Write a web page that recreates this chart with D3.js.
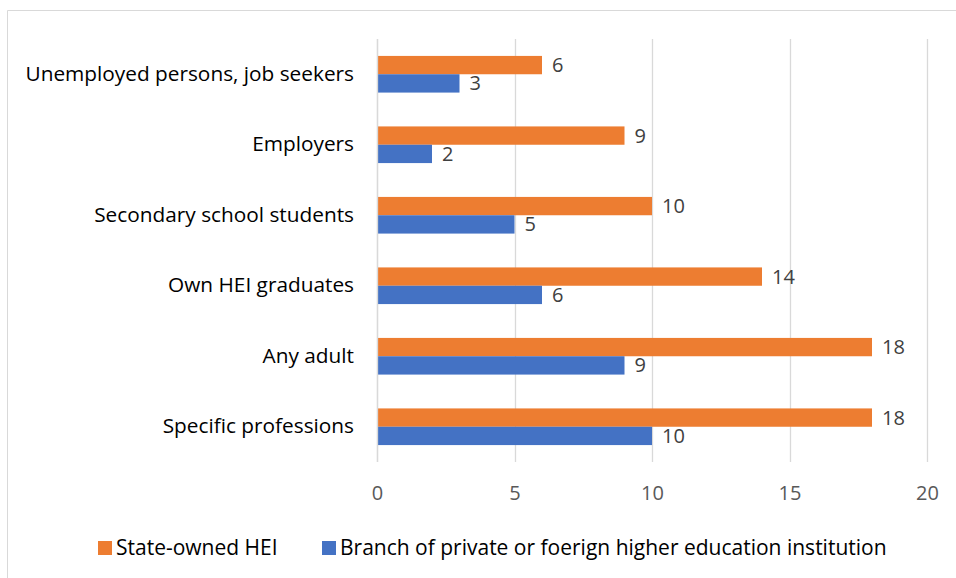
<!DOCTYPE html>
<html>
<head>
<meta charset="utf-8">
<script src="https://cdn.jsdelivr.net/npm/d3@7"></script>
<style>
  html, body { margin: 0; padding: 0; background: #fff; }
  svg { display: block; }
  text { font-family: "Open Sans", Lato, sans-serif; }
</style>
</head>
<body>
<svg id="chart" width="956" height="578"></svg>
<script>
// Target groups of courses, by type of institution
const categories = [
  "Unemployed persons, job seekers",
  "Employers",
  "Secondary school students",
  "Own HEI graduates",
  "Any adult",
  "Specific professions"
];
const seriesNames = ["State-owned HEI", "Branch of private or foerign higher education institution"];
const stateOwned = [6, 9, 10, 14, 18, 18];
const branchPrivate = [3, 2, 5, 6, 9, 10];
const xTicks = [0, 5, 10, 15, 20];
const colors = ["#ED7D31", "#4472C4"];

const FONT = "'Open Sans', Lato, sans-serif";
const svg = d3.select("#chart");
const W = 956, H = 578;

// Outer chart frame (left and top edges visible)
svg.append("path")
  .attr("d", `M7.5,${H} V10.5 H${W}`)
  .attr("fill", "none")
  .attr("stroke", "#d9d9d9")
  .attr("stroke-width", 1);

const plot = { left: 377, right: 927, top: 39, bottom: 462 };

const x = d3.scaleLinear().domain([0, 20]).range([plot.left, plot.right]);
const y = d3.scaleBand().domain(categories).range([plot.top, plot.bottom]).paddingInner(0.48).paddingOuter(0.24);
const ySub = d3.scaleBand().domain([0, 1]).range([0, y.bandwidth()]);

// Vertical gridlines
svg.append("g")
  .selectAll("line")
  .data(xTicks)
  .join("line")
  .attr("x1", d => Math.round(x(d)) + 0.5)
  .attr("x2", d => Math.round(x(d)) + 0.5)
  .attr("y1", plot.top)
  .attr("y2", plot.bottom)
  .attr("stroke", "#d9d9d9")
  .attr("stroke-width", 1.3);

// X axis tick labels
const xAxis = d3.axisBottom(x).tickValues(xTicks).tickSize(0).tickPadding(0);
const gx = svg.append("g")
  .attr("transform", `translate(0,${plot.bottom + 23})`)
  .call(xAxis);
gx.select(".domain").remove();
gx.selectAll("text")
  .attr("font-family", FONT)
  .attr("font-size", 20)
  .attr("fill", "#595959")
  .attr("dy", "0.35em")
  .attr("y", 8);

// Y axis category labels
const yAxis = d3.axisLeft(y).tickSize(0).tickPadding(23);
const gy = svg.append("g")
  .attr("transform", `translate(${plot.left},0)`)
  .call(yAxis);
gy.select(".domain").remove();
gy.selectAll("text")
  .attr("font-family", FONT)
  .attr("font-size", 20.8)
  .attr("fill", "#000");

// Bars
const series = [stateOwned, branchPrivate];
series.forEach((vals, si) => {
  const g = svg.append("g");
  g.selectAll("rect")
    .data(vals)
    .join("rect")
    .attr("x", x(0))
    .attr("y", (d, i) => y(categories[i]) + ySub(si))
    .attr("width", d => x(d) - x(0))
    .attr("height", ySub.bandwidth())
    .attr("fill", colors[si]);
  g.selectAll("text")
    .data(vals)
    .join("text")
    .attr("x", d => x(d) + 10)
    .attr("y", (d, i) => y(categories[i]) + ySub(si) + ySub.bandwidth() / 2)
    .attr("dy", "0.35em")
    .attr("font-size", 20)
    .attr("fill", "#404040")
    .text(d => d);
});

// Category axis line
svg.append("line")
  .attr("x1", x(0) + 0.5).attr("x2", x(0) + 0.5)
  .attr("y1", plot.top).attr("y2", plot.bottom)
  .attr("stroke", "#d9d9d9").attr("stroke-width", 1.3);

// Legend
const legendItems = [
  { name: seriesNames[0], color: colors[0], x: 98 },
  { name: seriesNames[1], color: colors[1], x: 322 }
];
const lg = svg.append("g");
legendItems.forEach(it => {
  lg.append("rect")
    .attr("x", it.x).attr("y", 541)
    .attr("width", 14).attr("height", 14)
    .attr("fill", it.color);
  lg.append("text")
    .attr("x", it.x + 18).attr("y", 548)
    .attr("dy", "0.35em")
    .attr("font-size", 21)
    .attr("fill", "#000")
    .text(it.name);
});
</script>
</body>
</html>
